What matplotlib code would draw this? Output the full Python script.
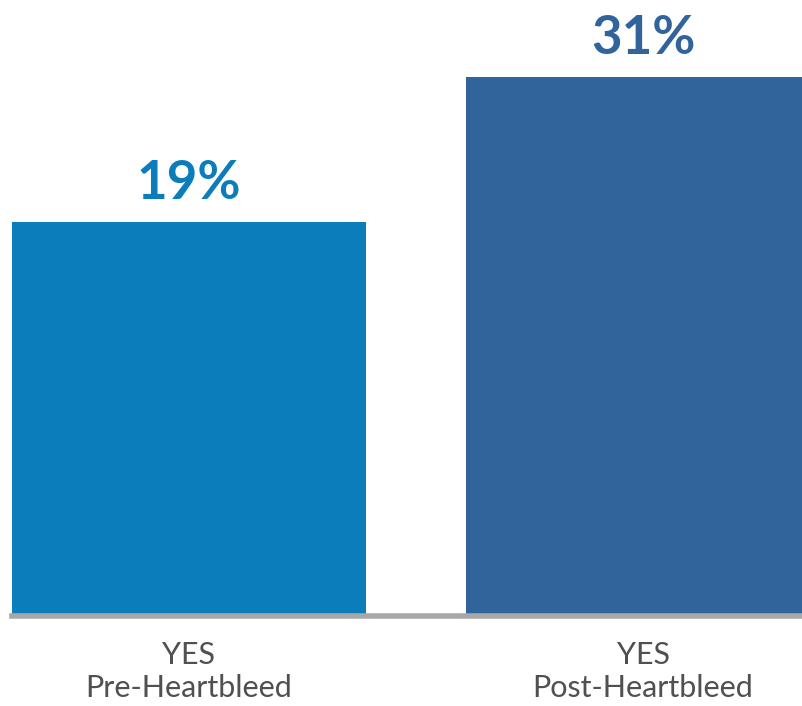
import matplotlib.pyplot as plt

# data
categories = ['YES\nPre-Heartbleed', 'YES\nPost-Heartbleed']
values = [19, 31]
value_labels = ['19%', '31%']
colors = ['#0b7dbb', '#31649a']

base = -13.6  # where the bars start in the picture
top = 37.4

fig = plt.figure(figsize=(8.03, 7.06), dpi=100)
ax = fig.add_axes([0, 0.1275, 1, 0.8725])

x = list(range(len(values)))
ax.bar(x, [v - base for v in values], bottom=base, width=0.78, color=colors)

ax.set_xlim(-0.416, 1.352)
ax.set_ylim(base, top)

# grey baseline
ax.axhline(base, xmin=0.015, xmax=1, color='#a8a8a8', linewidth=4, clip_on=False)

for xi, v, lab, c in zip(x, values, value_labels, colors):
    ax.annotate(lab, (xi, v), xytext=(0, 10), textcoords='offset points',
                ha='center', va='bottom', fontsize=38, fontweight='bold',
                color=c, family='Lato')

ax.set_xticks(x)
ax.set_xticklabels(categories, fontsize=22, color='#505050', family='Lato',
                   linespacing=1.22)
ax.tick_params(axis='x', length=0, pad=18)
ax.set_yticks([])
for s in ax.spines.values():
    s.set_visible(False)

fig.savefig('out.png', dpi=100)
